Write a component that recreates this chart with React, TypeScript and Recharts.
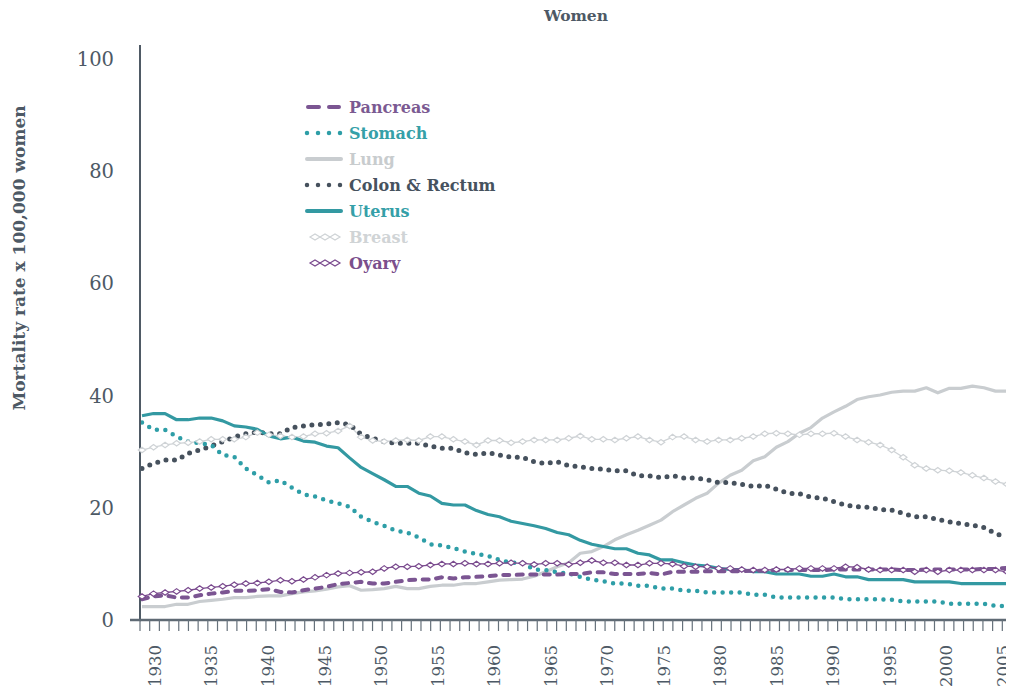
import React from 'react';
import { LineChart, Line, XAxis, YAxis, Legend } from 'recharts';

const years = [
  1930, 1931, 1932, 1933, 1934, 1935, 1936, 1937, 1938, 1939,
  1940, 1941, 1942, 1943, 1944, 1945, 1946, 1947, 1948, 1949,
  1950, 1951, 1952, 1953, 1954, 1955, 1956, 1957, 1958, 1959,
  1960, 1961, 1962, 1963, 1964, 1965, 1966, 1967, 1968, 1969,
  1970, 1971, 1972, 1973, 1974, 1975, 1976, 1977, 1978, 1979,
  1980, 1981, 1982, 1983, 1984, 1985, 1986, 1987, 1988, 1989,
  1990, 1991, 1992, 1993, 1994, 1995, 1996, 1997, 1998, 1999,
  2000, 2001, 2002, 2003, 2004, 2005,
];

const pancreas = [
  3.7, 4.2, 4.4, 4.0, 4.0, 4.4, 4.7, 4.9, 5.2, 5.2,
  5.3, 5.5, 5.0, 4.9, 5.3, 5.6, 5.9, 6.4, 6.6, 6.8,
  6.5, 6.5, 6.8, 7.1, 7.2, 7.2, 7.6, 7.4, 7.6, 7.7,
  7.8, 8.0, 8.0, 8.1, 8.1, 8.1, 8.1, 8.2, 8.2, 8.5,
  8.5, 8.2, 8.2, 8.2, 8.4, 8.1, 8.6, 8.6, 8.6, 8.7,
  8.7, 8.7, 8.7, 8.8, 8.8, 8.9, 8.9, 8.9, 8.9, 8.9,
  9.0, 9.0, 9.0, 9.0, 9.0, 9.0, 8.9, 8.9, 9.0, 9.0,
  9.0, 9.0, 9.0, 9.1, 9.1, 9.3,
];

const stomach = [
  35.2, 33.9, 33.9, 32.7, 31.8, 31.5, 31.2, 29.4, 29.1, 27.0,
  25.8, 24.5, 24.9, 23.6, 22.4, 22.0, 21.3, 20.8, 20.2, 18.4,
  17.5, 16.8, 15.9, 15.6, 14.7, 13.5, 13.3, 12.8, 12.2, 11.8,
  11.4, 10.7, 10.2, 10.2, 9.0, 8.9, 8.5, 8.3, 7.7, 7.2,
  6.9, 6.5, 6.5, 6.1, 6.1, 5.6, 5.6, 5.2, 5.2, 4.9,
  4.9, 4.9, 4.9, 4.5, 4.5, 4.0, 4.0, 4.0, 4.0, 4.0,
  4.0, 3.7, 3.7, 3.7, 3.7, 3.6, 3.3, 3.3, 3.3, 3.3,
  2.9, 2.9, 2.9, 2.9, 2.5, 2.5,
];

const lung = [
  2.4, 2.4, 2.4, 2.8, 2.8, 3.3, 3.5, 3.7, 4.0, 4.0,
  4.2, 4.3, 4.3, 4.7, 5.0, 5.2, 5.5, 5.9, 6.1, 5.3,
  5.4, 5.6, 6.0, 5.6, 5.6, 6.0, 6.2, 6.2, 6.5, 6.5,
  6.8, 7.1, 7.2, 7.3, 7.8, 8.6, 9.5, 10.2, 11.9, 12.2,
  13.1, 14.3, 15.2, 16.0, 16.9, 17.8, 19.3, 20.5, 21.7, 22.6,
  24.4, 25.8, 26.7, 28.4, 29.1, 30.8, 31.8, 33.3, 34.3, 36.0,
  37.1, 38.1, 39.3, 39.8, 40.1, 40.6, 40.8, 40.8, 41.4, 40.5,
  41.3, 41.3, 41.7, 41.4, 40.8, 40.8,
];

const colonRectum = [
  27.0, 27.9, 28.5, 28.5, 29.7, 30.3, 31.0, 31.8, 32.6, 33.2,
  33.5, 33.2, 33.2, 34.3, 34.6, 34.8, 34.9, 35.2, 34.8, 33.1,
  32.4, 31.8, 31.5, 31.5, 31.5, 31.0, 30.6, 30.6, 29.8, 29.5,
  29.8, 29.4, 29.0, 29.0, 28.2, 27.9, 28.2, 27.5, 27.3, 27.0,
  26.9, 26.6, 26.6, 25.7, 25.7, 25.4, 25.7, 25.3, 25.3, 25.0,
  24.5, 24.5, 24.2, 23.8, 24.0, 23.3, 22.6, 22.5, 21.9, 21.7,
  21.1, 20.5, 20.2, 20.1, 19.7, 19.6, 19.0, 18.4, 18.4, 17.9,
  17.5, 17.2, 16.9, 16.5, 15.4, 14.8,
];

const uterus = [
  36.4, 36.8, 36.8, 35.7, 35.7, 36.0, 36.0, 35.5, 34.6, 34.4,
  34.0, 32.8, 32.3, 32.6, 31.9, 31.7, 31.0, 30.7, 28.9, 27.2,
  26.1, 25.0, 23.8, 23.8, 22.6, 22.1, 20.8, 20.5, 20.5, 19.5,
  18.8, 18.4, 17.6, 17.2, 16.8, 16.3, 15.6, 15.2, 14.2, 13.5,
  13.1, 12.7, 12.7, 11.9, 11.6, 10.7, 10.7, 10.2, 9.8, 9.6,
  9.2, 9.0, 9.0, 8.6, 8.6, 8.2, 8.2, 8.2, 7.8, 7.8,
  8.2, 7.7, 7.7, 7.2, 7.2, 7.2, 7.2, 6.8, 6.8, 6.8,
  6.8, 6.5, 6.5, 6.5, 6.5, 6.5,
];

const breast = [
  30.3, 30.8, 31.2, 31.5, 31.6, 31.8, 32.2, 32.2, 32.2, 32.6,
  33.4, 33.0, 32.8, 32.6, 32.7, 33.2, 33.3, 33.7, 34.6, 32.6,
  32.0, 31.8, 32.0, 32.1, 32.0, 32.7, 32.7, 32.2, 31.8, 31.2,
  32.0, 32.0, 31.6, 31.8, 32.1, 32.1, 32.1, 32.4, 32.8, 32.2,
  32.2, 32.1, 32.4, 32.7, 32.1, 31.7, 32.6, 32.7, 32.1, 31.8,
  32.1, 32.1, 32.4, 32.7, 33.2, 33.3, 33.2, 33.0, 33.2, 33.2,
  33.3, 32.7, 32.1, 31.7, 31.2, 30.3, 29.0, 27.6, 27.0, 26.7,
  26.6, 26.3, 25.8, 25.3, 24.7, 24.2,
];

const ovary = [
  4.2, 4.7, 4.9, 5.1, 5.3, 5.6, 5.8, 6.0, 6.3, 6.5,
  6.6, 6.8, 7.1, 6.9, 7.2, 7.6, 8.0, 8.3, 8.4, 8.5,
  8.6, 9.2, 9.5, 9.5, 9.6, 9.8, 10.0, 10.0, 10.1, 10.0,
  10.0, 10.1, 10.2, 10.1, 9.9, 10.1, 10.1, 9.9, 10.2, 10.6,
  10.2, 10.2, 9.8, 9.8, 10.1, 10.1, 10.0, 9.6, 9.5, 9.5,
  9.2, 9.2, 9.0, 8.9, 8.9, 9.0, 9.0, 9.2, 9.2, 9.2,
  9.2, 9.5, 9.4, 9.0, 8.9, 8.9, 8.9, 8.6, 8.9, 8.6,
  8.9, 8.9, 8.9, 8.9, 8.9, 8.6,
];

const yearLabels = [1930, 1935, 1940, 1945, 1950, 1955, 1960, 1965, 1970, 1975, 1980, 1985, 1990, 1995, 2000, 2005];
const yTicks = [0, 20, 40, 60, 80, 100];

// plot geometry (px) used only to place the minor tick marks of the category axis
const PLOT_W = 872;
const LABEL_PAD_L = 15;
const LABEL_PAD_R = 9;
const MINOR_COUNT = 90;
const labelPxPerYear = (PLOT_W - LABEL_PAD_L - LABEL_PAD_R) / (2005 - 1930);
const minorTicks = Array.from({ length: MINOR_COUNT + 1 }, (_, k) => 1930 + ((PLOT_W / MINOR_COUNT) * k - LABEL_PAD_L) / labelPxPerYear);
const labelSet = new Set(yearLabels);
const allXTicks = [...minorTicks, ...yearLabels].sort((a, b) => a - b);

const data = years.map((year, i) => ({
  year,
  pancreas: pancreas[i],
  stomach: stomach[i],
  lung: lung[i],
  colonRectum: colonRectum[i],
  uterus: uterus[i],
  breast: breast[i],
  ovary: ovary[i],
}));

const FONT = '"DejaVu Serif", "Liberation Serif", serif';
const TEXT = '#4d5965';
const AXIS = '#5f6a74';
const C_PANCREAS = '#7b5592';
const C_STOMACH = '#2e9ea7';
const C_LUNG = '#c9cdd0';
const C_COLON = '#46515d';
const C_UTERUS = '#3399a2';
const C_BREAST = '#cfd3d6';
const C_OVARY = '#7a4a8e';

const legendItems = [
  { key: 'pancreas', label: 'Pancreas', color: C_PANCREAS, text: '#7b5a92', kind: 'dash' },
  { key: 'stomach', label: 'Stomach', color: C_STOMACH, text: '#35a0a8', kind: 'dot' },
  { key: 'lung', label: 'Lung', color: C_LUNG, text: '#c8ccce', kind: 'solid' },
  { key: 'colonRectum', label: 'Colon & Rectum', color: C_COLON, text: '#46525e', kind: 'dot' },
  { key: 'uterus', label: 'Uterus', color: C_UTERUS, text: '#35a0a8', kind: 'solid' },
  { key: 'breast', label: 'Breast', color: C_BREAST, text: '#d0d4d6', kind: 'diamond' },
  { key: 'ovary', label: 'Oyary', color: C_OVARY, text: '#7b4f8c', kind: 'diamond' },
];

const diamondPath = (cx: number, cy: number, w: number, h: number) =>
  `M${cx - w / 2},${cy} L${cx},${cy - h / 2} L${cx + w / 2},${cy} L${cx},${cy + h / 2} Z`;

const makeDiamond = (color: string) => (props: any) => {
  const { cx, cy, index } = props;
  if (cx == null || cy == null) return <g key={index} />;
  return (
    <path key={index} d={diamondPath(cx, cy, 7.5, 5.5)} fill="#ffffff" stroke={color} strokeWidth={1.2} />
  );
};

const LegendContent = () => (
  <svg width={240} height={185} style={{ display: 'block', overflow: 'visible' }}>
    {legendItems.map((it, i) => {
      const y = 12 + i * 26;
      let sample: React.ReactNode = null;
      if (it.kind === 'dash') {
        sample = <line x1={3} x2={34} y1={y} y2={y} stroke={it.color} strokeWidth={4} strokeDasharray="11 10" strokeLinecap="round" />;
      } else if (it.kind === 'dot') {
        sample = <line x1={2} x2={36} y1={y} y2={y} stroke={it.color} strokeWidth={4.5} strokeDasharray="0 11" strokeLinecap="round" />;
      } else if (it.kind === 'solid') {
        sample = <line x1={2} x2={36} y1={y} y2={y} stroke={it.color} strokeWidth={4} strokeLinecap="round" />;
      } else {
        sample = (
          <g>
            {[10, 20, 30].map((cx) => (
              <path key={cx} d={diamondPath(cx, y, 10, 6)} fill="#ffffff" stroke={it.color} strokeWidth={1.2} />
            ))}
          </g>
        );
      }
      return (
        <g key={it.key}>
          {sample}
          <text x={44} y={y} dy="0.36em" fontFamily={FONT} fontWeight="bold" fontSize={16} fill={it.text}>
            {it.label}
          </text>
        </g>
      );
    })}
  </svg>
);

const YTick = (props: any) => {
  const { x, y, payload } = props;
  return (
    <g>
      {payload.value === 0 && (
        <line x1={x + 16} x2={x + 27} y1={y} y2={y} stroke={AXIS} strokeWidth={2.5} />
      )}
      <text x={x} y={y} dy="0.36em" textAnchor="end" fontFamily={FONT} fontSize={19.5} fill={TEXT}>
        {payload.value}
      </text>
    </g>
  );
};

const XTick = (props: any) => {
  const { x, y, payload } = props;
  if (labelSet.has(payload.value)) {
    const ty = y + 25;
    return (
      <text
        x={x}
        y={ty}
        dy="0.36em"
        textAnchor="end"
        transform={`rotate(-90 ${x} ${ty})`}
        fontFamily={FONT}
        fontSize={16.5}
        fill={TEXT}
      >
        {payload.value}
      </text>
    );
  }
  return <line x1={x} x2={x} y1={y} y2={y + 11} stroke="#66717b" strokeWidth={1.2} />;
};

export default function App() {
  return (
    <div style={{ position: 'relative', width: 1014, height: 692, margin: '-8px 0 0 -8px' }}>
      <LineChart width={1014} height={692} data={data} margin={{ top: 45, right: 2, bottom: 0, left: 0 }}>
        <text x={576} y={21} textAnchor="middle" fontFamily={FONT} fontWeight="bold" fontSize={15.5} fill={TEXT}>
          Women
        </text>
        <text
          x={19}
          y={258}
          textAnchor="middle"
          dy="0.36em"
          transform="rotate(-90 19 258)"
          fontFamily={FONT}
          fontWeight="bold"
          fontSize={17}
          fill={TEXT}
        >
          Mortality rate x 100,000 women
        </text>
        <XAxis xAxisId="year" dataKey="year" type="number" domain={[1930, 2005]} hide padding={{ left: 2, right: 5 }} />
        <XAxis
          xAxisId="labels"
          dataKey="year"
          type="number"
          domain={[1930, 2005]}
          ticks={allXTicks}
          interval={0}
          allowDataOverflow
          padding={{ left: LABEL_PAD_L, right: LABEL_PAD_R }}
          axisLine={{ stroke: AXIS, strokeWidth: 2.5 }}
          tickLine={false}
          tickSize={0}
          tickMargin={0}
          height={72}
          tick={<XTick />}
        />
        <YAxis
          type="number"
          domain={[0, 100]}
          ticks={yTicks}
          interval={0}
          width={140}
          padding={{ top: 14, bottom: 0 }}
          axisLine={{ stroke: '#4f5a65', strokeWidth: 2 }}
          tickLine={false}
          tickSize={0}
          tickMargin={26}
          tick={<YTick />}
        />
        <Legend
          layout="vertical"
          align="center"
          verticalAlign="middle"
          content={<LegendContent />}
          wrapperStyle={{ position: 'absolute', left: 305, top: 95, width: 240, height: 185 }}
        />
        <Line xAxisId="year" dataKey="breast" stroke={C_BREAST} strokeWidth={1.3} dot={makeDiamond(C_BREAST)} isAnimationActive={false} />
        <Line xAxisId="year" dataKey="lung" stroke={C_LUNG} strokeWidth={3.2} dot={false} strokeLinejoin="round" isAnimationActive={false} />
        <Line xAxisId="year" dataKey="colonRectum" stroke={C_COLON} strokeWidth={5} strokeDasharray="0 8.5" strokeLinecap="round" dot={false} isAnimationActive={false} />
        <Line xAxisId="year" dataKey="uterus" stroke={C_UTERUS} strokeWidth={3.2} dot={false} strokeLinejoin="round" isAnimationActive={false} />
        <Line xAxisId="year" dataKey="stomach" stroke={C_STOMACH} strokeWidth={4.5} strokeDasharray="0 8.5" strokeLinecap="round" dot={false} isAnimationActive={false} />
        <Line xAxisId="year" dataKey="ovary" stroke={C_OVARY} strokeWidth={1.3} dot={makeDiamond(C_OVARY)} isAnimationActive={false} />
        <Line xAxisId="year" dataKey="pancreas" stroke={C_PANCREAS} strokeWidth={4} strokeDasharray="6 7.5" strokeLinecap="round" dot={false} isAnimationActive={false} />
      </LineChart>
    </div>
  );
}
